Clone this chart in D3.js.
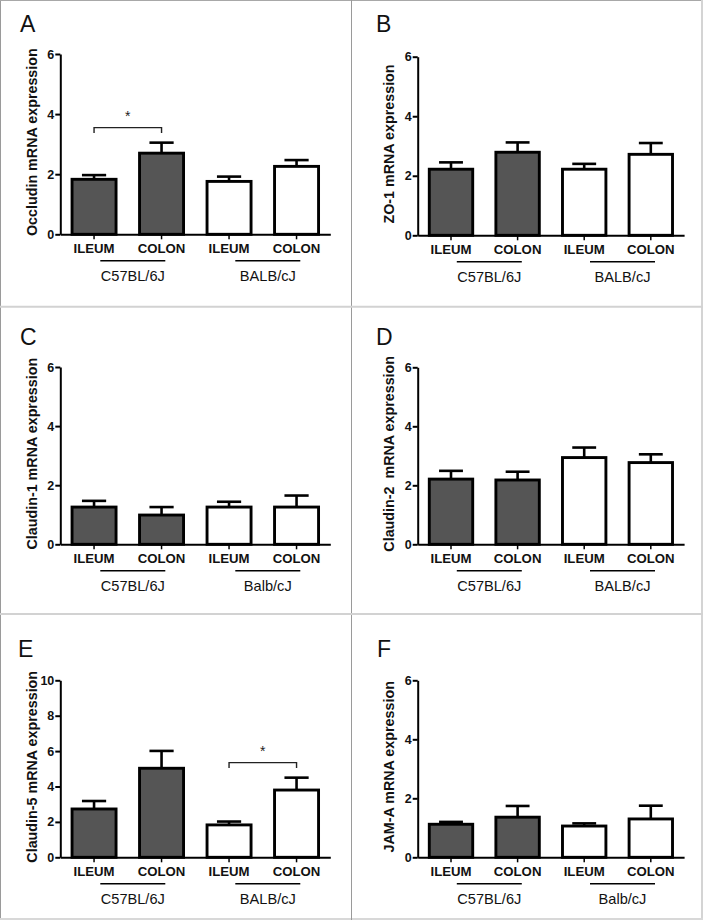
<!DOCTYPE html>
<html>
<head>
<meta charset="utf-8">
<script src="https://cdn.jsdelivr.net/npm/d3@7"></script>
<style>
  html, body { margin: 0; padding: 0; background: #fff; }
  svg { display: block; }
  text { font-family: "Liberation Sans", Arial, Helvetica, sans-serif; white-space: pre; }
</style>
</head>
<body>
<svg id="chart" width="703" height="920"></svg>
<script>
// ---------------- data ----------------
const panelLetters = ["A", "B", "C", "D", "E", "F"];
const yTitles = [
  "Occludin mRNA expression",
  "ZO-1 mRNA expression",
  "Claudin-1 mRNA expression",
  "Claudin-2  mRNA expression",
  "Claudin-5 mRNA expression",
  "JAM-A mRNA expression"
];
const tissues = ["ILEUM", "COLON", "ILEUM", "COLON"];
const strainsUpper = ["C57BL/6J", "BALB/cJ"];
const strainsLower = ["C57BL/6J", "Balb/cJ"];
const yMaxes = [6, 6, 6, 6, 10, 6];
const yTicks6 = [0, 2, 4, 6];
const yTicks10 = [0, 2, 4, 6, 8, 10];

const meansA = [1.83, 2.70, 1.76, 2.26];
const semA   = [0.14, 0.35, 0.16, 0.21];
const meansB = [2.22, 2.79, 2.22, 2.72];
const semB   = [0.23, 0.33, 0.18, 0.38];
const meansC = [1.26, 0.99, 1.26, 1.26];
const semC   = [0.21, 0.27, 0.18, 0.39];
const meansD = [2.21, 2.18, 2.94, 2.77];
const semD   = [0.28, 0.28, 0.34, 0.28];
const meansE = [2.73, 5.03, 1.83, 3.80];
const semE   = [0.45, 0.98, 0.19, 0.70];
const meansF = [1.12, 1.36, 1.06, 1.30];
const semF   = [0.08, 0.38, 0.09, 0.45];

// significance brackets: [panel index, from bar, to bar, bracket level (y value)]
const sigBrackets = [
  [0, 0, 1, 3.55],
  [4, 2, 3, 5.35]
];

// ---------------- layout ----------------
const panels = [
  { means: meansA, sem: semA, strains: strainsUpper, axisX: 60.3, xLen: 270, yTop: 54,    yBot: 234.3, lx: 20,  ly: 32 },
  { means: meansB, sem: semB, strains: strainsUpper, axisX: 417.7, xLen: 266.4, yTop: 56.7, yBot: 235.3, lx: 376, ly: 32 },
  { means: meansC, sem: semC, strains: strainsLower, axisX: 60.3, xLen: 270, yTop: 367,   yBot: 544.3, lx: 20,  ly: 345 },
  { means: meansD, sem: semD, strains: strainsUpper, axisX: 417.7, xLen: 266.4, yTop: 367.3, yBot: 544.3, lx: 376, ly: 345 },
  { means: meansE, sem: semE, strains: strainsUpper, axisX: 60.3, xLen: 270, yTop: 680.3, yBot: 857.3, lx: 18,  ly: 657 },
  { means: meansF, sem: semF, strains: strainsLower, axisX: 417.7, xLen: 266.4, yTop: 680.3, yBot: 857.3, lx: 377, ly: 657 }
];
const fills = ["#555555", "#555555", "#ffffff", "#ffffff"];

const svg = d3.select("#chart");

// frame / panel dividers
svg.append("rect").attr("x", 0).attr("y", 0).attr("width", 703).attr("height", 920).attr("fill", "#fff");
svg.append("line").attr("x1", 0.5).attr("x2", 0.5).attr("y1", 0).attr("y2", 920).attr("stroke", "#9a9a9a").attr("stroke-width", 1);
svg.append("line").attr("x1", 0).attr("x2", 703).attr("y1", 0.5).attr("y2", 0.5).attr("stroke", "#a8a8a8").attr("stroke-width", 1);
svg.append("line").attr("x1", 702).attr("x2", 702).attr("y1", 0).attr("y2", 920).attr("stroke", "#d4d4d4").attr("stroke-width", 2);
svg.append("line").attr("x1", 0).attr("x2", 703).attr("y1", 919).attr("y2", 919).attr("stroke", "#d8d8d8").attr("stroke-width", 2);
svg.append("line").attr("x1", 351.5).attr("x2", 351.5).attr("y1", 0).attr("y2", 920).attr("stroke", "#9a9a9a").attr("stroke-width", 1);
[306.7, 614].forEach(y => {
  svg.append("line").attr("x1", 0).attr("x2", 703).attr("y1", y).attr("y2", y).attr("stroke", "#d2d2d2").attr("stroke-width", 2);
});

panels.forEach((p, i) => {
  const g = svg.append("g");
  const idx = d3.range(tissues.length);
  const x = d3.scaleBand().domain(idx).range([p.axisX, p.axisX + p.xLen]).paddingInner(0.348).paddingOuter(0.174);
  const y = d3.scaleLinear().domain([0, yMaxes[i]]).range([p.yBot, p.yTop]);

  // panel letter
  g.append("text").attr("x", p.lx).attr("y", p.ly).attr("font-size", 23).attr("fill", "#111").text(panelLetters[i]);

  // bars
  g.selectAll("rect.bar").data(idx).join("rect")
    .attr("class", "bar")
    .attr("x", d => x(d))
    .attr("width", x.bandwidth())
    .attr("y", d => y(p.means[d]))
    .attr("height", d => y(0) - y(p.means[d]))
    .attr("fill", d => fills[d])
    .attr("stroke", "#000")
    .attr("stroke-width", 2.9);

  // error bars (upper only)
  const capW = x.bandwidth() * 0.55;
  g.selectAll("line.err").data(idx).join("line")
    .attr("class", "err")
    .attr("x1", d => x(d) + x.bandwidth() / 2).attr("x2", d => x(d) + x.bandwidth() / 2)
    .attr("y1", d => y(p.means[d])).attr("y2", d => y(p.means[d] + p.sem[d]))
    .attr("stroke", "#000").attr("stroke-width", 2.6);
  g.selectAll("line.cap").data(idx).join("line")
    .attr("class", "cap")
    .attr("x1", d => x(d) + x.bandwidth() / 2 - capW / 2).attr("x2", d => x(d) + x.bandwidth() / 2 + capW / 2)
    .attr("y1", d => y(p.means[d] + p.sem[d])).attr("y2", d => y(p.means[d] + p.sem[d]))
    .attr("stroke", "#000").attr("stroke-width", 2.6);

  // y axis
  const yTicks = yMaxes[i] === 10 ? yTicks10 : yTicks6;
  const ya = g.append("g").attr("transform", `translate(${p.axisX},0)`)
    .call(d3.axisLeft(y).tickValues(yTicks).tickSize(5).tickSizeOuter(0).tickPadding(1).tickFormat(d3.format("d")));
  ya.select(".domain").attr("stroke", "#000").attr("stroke-width", 2);
  ya.selectAll(".tick line").attr("stroke", "#000").attr("stroke-width", 2);
  ya.selectAll(".tick text").attr("font-size", 12.5).attr("font-weight", "bold").attr("fill", "#111")
    .attr("font-family", "'Liberation Sans', Arial, sans-serif");

  // x axis
  const xa = g.append("g").attr("transform", `translate(0,${p.yBot})`)
    .call(d3.axisBottom(x).tickSize(5).tickSizeOuter(0).tickFormat(d => tissues[d]));
  xa.select(".domain").attr("stroke", "#000").attr("stroke-width", 2);
  xa.selectAll(".tick line").attr("stroke", "#000").attr("stroke-width", 1.5);
  xa.selectAll(".tick text").attr("font-size", 13.2).attr("font-weight", "bold").attr("fill", "#111")
    .attr("y", 9.5).attr("dy", "0.71em")
    .attr("font-family", "'Liberation Sans', Arial, sans-serif");

  // y title
  const yc = (p.yTop + p.yBot) / 2 - 2;
  g.append("text")
    .attr("transform", `translate(${p.axisX - 28.5},${yc}) rotate(-90)`)
    .attr("text-anchor", "middle").attr("dy", "0.35em")
    .attr("font-size", 14.3).attr("font-weight", "bold").attr("fill", "#111")
    .text(yTitles[i]);

  // strain groups
  [0, 1].forEach(k => {
    const c = (x(2 * k) + x(2 * k + 1) + x.bandwidth()) / 2 + 5;
    g.append("line").attr("x1", c - 32.5).attr("x2", c + 32.5)
      .attr("y1", p.yBot + 26.5).attr("y2", p.yBot + 26.5)
      .attr("stroke", "#000").attr("stroke-width", 1.5);
    g.append("text").attr("x", c).attr("y", p.yBot + 42).attr("dy", "0.35em")
      .attr("text-anchor", "middle").attr("font-size", 14.6).attr("fill", "#111")
      .text(p.strains[k]);
  });

  // significance brackets
  sigBrackets.filter(s => s[0] === i).forEach(s => {
    const x1 = x(s[1]) + x.bandwidth() / 2, x2 = x(s[2]) + x.bandwidth() / 2;
    const yb = y(s[3]);
    g.append("path")
      .attr("d", `M${x1},${yb + 5.5}V${yb}H${x2}V${yb + 5.5}`)
      .attr("fill", "none").attr("stroke", "#222").attr("stroke-width", 1.4);
    g.append("text").attr("x", (x1 + x2) / 2).attr("y", yb - 7).attr("text-anchor", "middle")
      .attr("font-size", 14).attr("fill", "#222").text("*");
  });
});
</script>
</body>
</html>
